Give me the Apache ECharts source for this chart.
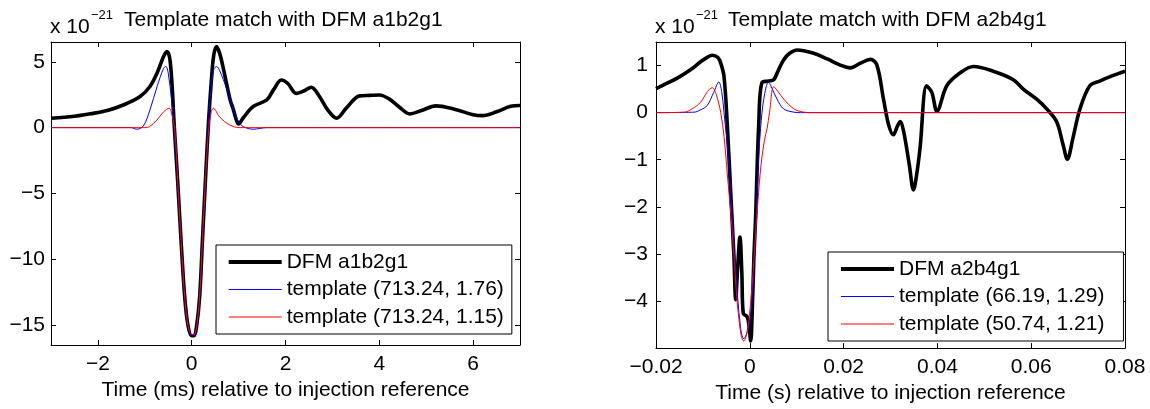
<!DOCTYPE html>
<html>
<head>
<meta charset="utf-8">
<script src="https://cdn.jsdelivr.net/npm/echarts@6/dist/echarts.min.js"></script>
<style>
html,body{margin:0;padding:0;background:#fff;}
#c{width:1150px;height:409px;}
</style>
</head>
<body>
<div id="c"></div>
<script>
// ---------- Left panel data (time in ms, strain x 1e-21) ----------
const leftName = 'DFM a1b2g1';
const leftTplNames = ['template (713.24, 1.76)', 'template (713.24, 1.15)'];
const leftXTicks = [-2, 0, 2, 4, 6];
const leftYTicks = [-15, -10, -5, 0, 5];

const dfmA1 = [
  [-3.0, 0.71], [-2.5, 0.86], [-2.16, 1.05], [-1.8, 1.3], [-1.46, 1.72], [-1.1, 2.36], [-0.89, 3.12],
  [-0.74, 4.13], [-0.6, 5.4], [-0.53, 5.78], [-0.47, 5.3], [-0.42, 3.3], [-0.37, 0.0],
  [-0.3, -4.0], [-0.22, -9.0], [-0.15, -12.8], [-0.08, -15.0], [0.0, -15.8], [0.05, -15.8],
  [0.1, -15.2], [0.17, -12.8], [0.23, -8.5], [0.3, -3.5], [0.36, 0.5], [0.42, 3.6], [0.47, 5.5],
  [0.53, 6.15], [0.6, 5.6], [0.68, 4.4], [0.74, 3.4], [0.82, 2.1], [0.89, 1.35], [0.95, 0.6],
  [1.0, 0.28], [1.1, 0.75], [1.31, 1.6], [1.6, 2.1], [1.75, 2.9], [1.91, 3.62], [2.05, 3.35],
  [2.23, 2.6], [2.4, 2.8], [2.55, 3.07], [2.7, 2.5], [2.9, 1.35], [3.09, 0.71], [3.3, 1.5],
  [3.58, 2.41], [3.8, 2.45], [4.0, 2.48], [4.2, 2.2], [4.43, 1.55], [4.65, 1.04], [4.9, 1.3],
  [5.21, 1.65], [5.6, 1.4], [6.0, 0.98], [6.2, 0.91], [6.5, 1.2], [6.8, 1.62], [7.0, 1.68]
];
const tplA1Blue = [
  [-3.0, 0.0], [-1.3, 0.0], [-1.17, -0.12], [-1.03, 0.13], [-0.89, 1.35], [-0.74, 3.1],
  [-0.6, 4.5], [-0.55, 4.64], [-0.5, 4.13], [-0.43, 2.1], [-0.37, -0.3], [-0.3, -4.0],
  [-0.22, -9.0], [-0.15, -12.8], [-0.08, -15.0], [0.0, -15.8], [0.05, -15.8], [0.1, -15.2],
  [0.17, -12.8], [0.23, -8.5], [0.3, -3.5], [0.36, 0.5], [0.42, 3.2], [0.47, 4.4], [0.53, 4.64],
  [0.6, 4.3], [0.74, 3.0], [0.89, 1.35], [1.0, 0.45], [1.1, 0.08], [1.31, -0.12], [1.6, 0.0],
  [7.0, 0.0]
];
const tplA1Red = [
  [-3.0, 0.0], [-1.0, 0.0], [-0.9, 0.08], [-0.74, 0.58], [-0.6, 1.2], [-0.48, 1.47],
  [-0.43, 1.1], [-0.36, -0.2], [-0.3, -4.0], [-0.22, -9.0], [-0.15, -12.8], [-0.08, -15.0],
  [0.0, -15.7], [0.05, -15.7], [0.1, -15.2], [0.17, -12.8], [0.23, -8.5], [0.3, -3.5],
  [0.36, -0.2], [0.41, 1.1], [0.46, 1.47], [0.6, 0.8], [0.81, 0.2], [1.03, 0.0], [7.0, 0.0]
];

// ---------- Right panel data (time in s, strain x 1e-21) ----------
const rightName = 'DFM a2b4g1';
const rightTplNames = ['template (66.19, 1.29)', 'template (50.74, 1.21)'];
const rightXTicks = [-0.02, 0, 0.02, 0.04, 0.06, 0.08];
const rightYTicks = [-4, -3, -2, -1, 0, 1];

const dfmA2 = [
  [-0.02, 0.51], [-0.0175, 0.63], [-0.015, 0.76], [-0.0125, 0.92], [-0.0105, 1.08], [-0.009, 1.18],
  [-0.008, 1.22], [-0.0068, 1.17], [-0.0062, 1.05], [-0.0055, 0.77], [-0.0048, -0.26],
  [-0.0041, -1.64], [-0.0034, -3.02], [-0.003, -3.97], [-0.0026, -3.3], [-0.0021, -2.64],
  [-0.0017, -3.4], [-0.0014, -4.26], [-0.0006, -4.33], [-0.0002, -4.5], [0.0002, -4.85],
  [0.0005, -4.26], [0.0009, -3.0], [0.0012, -2.33], [0.0019, -0.26], [0.0026, 0.64],
  [0.004, 0.67], [0.0051, 0.7], [0.006, 0.88], [0.0072, 1.12], [0.0085, 1.26], [0.0101, 1.33],
  [0.0136, 1.26], [0.0165, 1.14], [0.0193, 1.01], [0.0214, 0.95], [0.0236, 1.05], [0.0257, 1.13],
  [0.0271, 1.01], [0.0285, 0.29], [0.0296, -0.26], [0.0306, -0.47], [0.0315, -0.28],
  [0.0321, -0.19], [0.0328, -0.4], [0.034, -1.1], [0.0349, -1.64], [0.0356, -1.3],
  [0.0363, -0.75], [0.0377, 0.57], [0.0388, 0.43], [0.0399, 0.03], [0.042, 0.57],
  [0.0448, 0.84], [0.0477, 0.98], [0.0519, 0.88], [0.0562, 0.7], [0.0583, 0.5], [0.0611, 0.29],
  [0.0633, 0.08], [0.0654, -0.19], [0.0668, -0.68], [0.0677, -0.99], [0.0689, -0.54],
  [0.0704, 0.08], [0.0725, 0.57], [0.0746, 0.67], [0.0775, 0.79], [0.08, 0.88]
];
const tplA2Blue = [
  [-0.02, 0.0], [-0.0119, 0.01], [-0.0105, 0.06], [-0.0091, 0.15], [-0.0077, 0.43],
  [-0.0066, 0.65], [-0.006, 0.45], [-0.0055, 0.0], [-0.0048, -0.7], [-0.0041, -1.64],
  [-0.003, -3.37], [-0.002, -4.54], [-0.0013, -4.8], [-0.0005, -4.65], [0.0002, -4.26],
  [0.00085, -3.37], [0.0019, -0.95], [0.0023, -0.33], [0.003, 0.3], [0.004, 0.65],
  [0.0048, 0.5], [0.0058, 0.29], [0.0072, 0.08], [0.0094, 0.01], [0.0108, 0.0], [0.08, 0.0]
];
const tplA2Red = [
  [-0.02, 0.0], [-0.014, 0.01], [-0.0123, 0.08], [-0.0105, 0.22], [-0.009, 0.45], [-0.008, 0.53],
  [-0.0072, 0.4], [-0.0062, 0.0], [-0.0055, -0.5], [-0.0048, -1.3], [-0.004, -2.2],
  [-0.0034, -3.02], [-0.0028, -3.9], [-0.0023, -4.4], [-0.0018, -4.75], [-0.0013, -4.85],
  [-0.0008, -4.75], [-0.0002, -4.4], [0.0003, -3.9], [0.00085, -3.16], [0.0015, -2.2],
  [0.0023, -1.2], [0.0031, -0.6], [0.0037, -0.33], [0.0042, 0.0], [0.0051, 0.55],
  [0.006, 0.45], [0.0072, 0.29], [0.0094, 0.08], [0.0115, 0.01], [0.013, 0.0], [0.08, 0.0]
];

// ---------- Chart ----------
const FONT = 'Liberation Sans, Arial, Helvetica, sans-serif';
const minus = v => String(v).replace('-', '\u2212');

function xAx(grid, min, max, ticks, pos, showLabels, name, nameGap, labelMargin) {
  return {
    type: 'value', gridIndex: grid, min: min, max: max, position: pos,
    name: showLabels ? name : '', nameLocation: 'middle', nameGap: nameGap,
    nameTextStyle: { fontFamily: FONT, fontSize: 21, color: '#000' },
    axisLine: { show: true, onZero: false, lineStyle: { color: '#000', width: 1 } },
    axisTick: { show: true, inside: true, length: 5, customValues: ticks, lineStyle: { color: '#000', width: 1 } },
    axisLabel: { show: showLabels, customValues: ticks, margin: labelMargin, fontFamily: FONT, fontSize: 21, color: '#000',
                 formatter: v => minus(v), showMinLabel: true, showMaxLabel: true, hideOverlap: false },
    splitLine: { show: false }
  };
}
function yAx(grid, min, max, ticks, pos, showLabels, labelMargin) {
  return {
    type: 'value', gridIndex: grid, min: min, max: max, position: pos,
    axisLine: { show: true, onZero: false, lineStyle: { color: '#000', width: 1 } },
    axisTick: { show: true, inside: true, length: 5, customValues: ticks, lineStyle: { color: '#000', width: 1 } },
    axisLabel: { show: showLabels, customValues: ticks, margin: labelMargin, fontFamily: FONT, fontSize: 21, color: '#000',
                 formatter: v => minus(v), showMinLabel: true, showMaxLabel: true, hideOverlap: false },
    splitLine: { show: false }
  };
}
function line(name, data, color, width, xi, yi, z) {
  return {
    type: 'line', name: name, data: data, xAxisIndex: xi, yAxisIndex: yi,
    showSymbol: false, symbol: 'none', smooth: 0.35, z: z, animation: false,
    lineStyle: { color: color, width: width }, itemStyle: { color: color },
    emphasis: { disabled: true }
  };
}
function legend(left, top, names, padding) {
  return {
    left: left, top: top, orient: 'vertical', padding: padding,
    borderColor: '#000', borderWidth: 1, backgroundColor: '#fff',
    itemWidth: 53, itemHeight: 14, itemGap: 6.5, selectedMode: false,
    textStyle: { fontFamily: FONT, fontSize: 21, color: '#000', lineHeight: 21 },
    data: [
      { name: names[0], lineStyle: { width: 4, color: '#000' }, itemStyle: { opacity: 0 } },
      { name: names[1], lineStyle: { width: 1, color: '#0000ff' }, itemStyle: { opacity: 0 } },
      { name: names[2], lineStyle: { width: 1, color: '#ff0000' }, itemStyle: { opacity: 0 } }
    ]
  };
}
function txt(x, y, s, size) {
  return { type: 'text', left: x, top: y, z: 100,
           style: { text: s, fontFamily: FONT, fontSize: size, fill: '#000' } };
}

const chart = echarts.init(document.getElementById('c'), null, { renderer: 'canvas' });
chart.setOption({
  animation: false,
  backgroundColor: '#fff',
  grid: [
    { left: 51, top: 42, width: 469, height: 303, containLabel: false },
    { left: 656, top: 42, width: 469, height: 313, containLabel: false }
  ],
  xAxis: [
    xAx(0, -3, 7, leftXTicks, 'bottom', true, 'Time (ms) relative to injection reference', 31, 9),
    xAx(0, -3, 7, leftXTicks, 'top', false, '', 0, 8),
    xAx(1, -0.02, 0.08, rightXTicks, 'bottom', true, 'Time (s) relative to injection reference', 31, 9),
    xAx(1, -0.02, 0.08, rightXTicks, 'top', false, '', 0, 8)
  ],
  yAxis: [
    yAx(0, -16.5, 6.5, leftYTicks, 'left', true, 6),
    yAx(0, -16.5, 6.5, leftYTicks, 'right', false, 6),
    yAx(1, -5, 1.5, rightYTicks, 'left', true, 8),
    yAx(1, -5, 1.5, rightYTicks, 'right', false, 8)
  ],
  legend: [
    legend(216, 245, [leftName].concat(leftTplNames), [6.5, 8, 6.5, 10.7]),
    legend(828, 252, [rightName].concat(rightTplNames), [6.5, 19, 6.5, 11])
  ],
  series: [
    line(leftName, dfmA1, '#000000', 3.6, 0, 0, 2),
    line(leftTplNames[0], tplA1Blue, '#0000ff', 1, 0, 0, 3),
    line(leftTplNames[1], tplA1Red, '#ff0000', 1, 0, 0, 4),
    line(rightName, dfmA2, '#000000', 3.6, 2, 2, 2),
    line(rightTplNames[0], tplA2Blue, '#0000ff', 1, 2, 2, 3),
    line(rightTplNames[1], tplA2Red, '#ff0000', 1, 2, 2, 4)
  ],
  graphic: [
    txt(50, 17, 'x 10', 21),
    txt(91, 9, '\u221221', 13),
    txt(124, 10, 'Template match with DFM a1b2g1', 21),
    txt(655, 17, 'x 10', 21),
    txt(696, 9, '\u221221', 13),
    txt(728, 10, 'Template match with DFM a2b4g1', 21)
  ]
});
</script>
</body>
</html>
